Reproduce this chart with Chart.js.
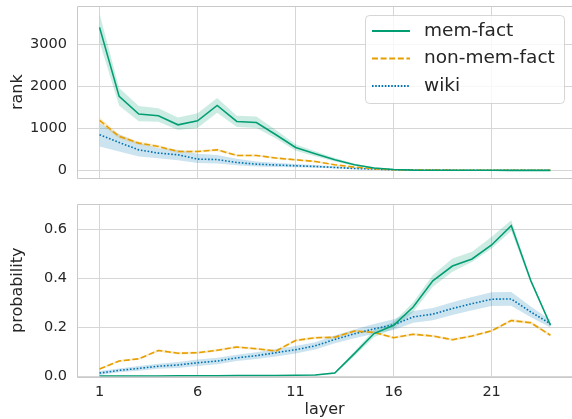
<!DOCTYPE html>
<html>
<head>
<meta charset="utf-8">
<script src="https://cdn.jsdelivr.net/npm/chart.js@4"></script>
<style>
  html, body { margin: 0; padding: 0; background: #fff; overflow: hidden; }
  #wrap { position: relative; width: 572px; height: 419px; overflow: hidden; }
  #topBox { position: absolute; left: 0; top: 0; }
  #botBox { position: absolute; left: 0; top: 190px; }
</style>
</head>
<body>
<div id="wrap">
  <div id="topBox"><canvas id="rankChart" width="572" height="190"></canvas></div>
  <div id="botBox"><canvas id="probChart" width="572" height="240"></canvas></div>
</div>
<script>
// layers on the x axis
const layers = [1, 2, 3, 4, 5, 6, 7, 8, 9, 10, 11, 12, 13, 14, 15, 16, 17, 18, 19, 20, 21, 22, 23, 24];
const layerTicks = [1, 6, 11, 16, 21];
const rankTicks = [0, 1000, 2000, 3000];
const probTicks = [0, 0.2, 0.4, 0.6];
const seriesNames = ["mem-fact", "non-mem-fact", "wiki"];

// top panel: rank (mean and band)
const memRank = [3400, 1760, 1340, 1300, 1085, 1180, 1545, 1165, 1140, 850, 546, 396, 254, 135, 57, 24, 8, 6, 5, 4, 4, 3, 3, 3];
const memRankLo = [3050, 1540, 1170, 1160, 960, 1010, 1370, 1030, 1010, 760, 470, 340, 215, 110, 42, 14, 5, 4, 3, 3, 3, 2, 2, 2];
const memRankHi = [3730, 1960, 1530, 1480, 1260, 1360, 1720, 1300, 1280, 960, 625, 455, 295, 165, 75, 34, 11, 8, 7, 6, 5, 4, 4, 4];
const nonRank = [1190, 810, 650, 570, 450, 450, 490, 357, 357, 295, 254, 214, 135, 80, 40, 17, 10, 8, 7, 6, 6, 5, 5, 5];
const nonRankLo = [1120, 760, 610, 535, 420, 420, 455, 330, 330, 270, 230, 192, 120, 70, 33, 12, 8, 6, 5, 5, 5, 4, 4, 4];
const nonRankHi = [1260, 860, 690, 605, 480, 480, 525, 385, 385, 320, 278, 236, 150, 90, 47, 22, 12, 10, 9, 7, 7, 6, 6, 6];
const wikiRank = [850, 665, 490, 413, 373, 270, 260, 190, 150, 130, 112, 95, 72, 48, 33, 17, 10, 8, 7, 6, 6, 5, 5, 5];
const wikiRankLo = [570, 450, 330, 290, 240, 175, 165, 125, 95, 85, 75, 65, 45, 30, 18, 6, 4, 3, 3, 3, 3, 2, 2, 2];
const wikiRankHi = [1120, 860, 650, 530, 490, 396, 370, 280, 215, 185, 155, 130, 100, 68, 48, 25, 16, 13, 11, 10, 10, 8, 8, 8];

// bottom panel: probability (mean and band)
const memProb = [0.002, 0.002, 0.002, 0.002, 0.003, 0.003, 0.003, 0.004, 0.004, 0.004, 0.005, 0.006, 0.014, 0.093, 0.175, 0.209, 0.283, 0.39, 0.45, 0.479, 0.536, 0.615, 0.39, 0.209];
const memProbLo = [0.001, 0.001, 0.001, 0.001, 0.002, 0.002, 0.002, 0.003, 0.003, 0.003, 0.004, 0.004, 0.010, 0.083, 0.160, 0.195, 0.263, 0.366, 0.427, 0.467, 0.522, 0.593, 0.380, 0.203];
const memProbHi = [0.003, 0.003, 0.003, 0.003, 0.004, 0.004, 0.004, 0.005, 0.005, 0.005, 0.006, 0.008, 0.018, 0.103, 0.190, 0.223, 0.303, 0.414, 0.481, 0.508, 0.570, 0.637, 0.398, 0.215];
const nonProb = [0.031, 0.063, 0.072, 0.106, 0.095, 0.097, 0.107, 0.12, 0.113, 0.104, 0.147, 0.158, 0.16, 0.185, 0.18, 0.158, 0.172, 0.165, 0.15, 0.165, 0.186, 0.228, 0.219, 0.168];
const nonProbLo = [0.027, 0.059, 0.068, 0.101, 0.090, 0.092, 0.102, 0.115, 0.108, 0.099, 0.142, 0.153, 0.155, 0.180, 0.175, 0.153, 0.167, 0.160, 0.145, 0.160, 0.181, 0.222, 0.213, 0.162];
const nonProbHi = [0.035, 0.067, 0.076, 0.111, 0.100, 0.102, 0.112, 0.125, 0.118, 0.109, 0.152, 0.163, 0.165, 0.190, 0.185, 0.163, 0.177, 0.170, 0.155, 0.170, 0.191, 0.234, 0.225, 0.174];
const wikiProb = [0.014, 0.025, 0.033, 0.042, 0.047, 0.056, 0.063, 0.076, 0.085, 0.097, 0.109, 0.125, 0.151, 0.174, 0.194, 0.211, 0.243, 0.254, 0.277, 0.297, 0.315, 0.316, 0.263, 0.215];
const wikiProbLo = [0.006, 0.017, 0.023, 0.032, 0.035, 0.043, 0.050, 0.063, 0.071, 0.082, 0.094, 0.110, 0.135, 0.156, 0.174, 0.189, 0.219, 0.229, 0.251, 0.270, 0.287, 0.288, 0.241, 0.200];
const wikiProbHi = [0.022, 0.033, 0.043, 0.052, 0.059, 0.069, 0.076, 0.089, 0.099, 0.112, 0.124, 0.140, 0.167, 0.192, 0.214, 0.233, 0.267, 0.279, 0.303, 0.324, 0.343, 0.344, 0.285, 0.230];

const GREEN = "#029E73", ORANGE = "#E69F00", BLUE = "#0173B2";
const GREEN_BAND = "rgba(2,158,115,0.2)", ORANGE_BAND = "rgba(230,159,0,0.2)", BLUE_BAND = "rgba(1,115,178,0.2)";
const TEXT = "#262626", GRID = "#d6d6d6", SPINE = "#c9c9c9";
const FONT = "'DejaVu Sans', sans-serif";

const pts = vals => layers.map((l, i) => ({ x: l, y: vals[i] }));

function line(label, vals, color, dash) {
  return { label, data: pts(vals), borderColor: color, borderWidth: 1.6, borderDash: dash,
           pointRadius: 0, fill: false, tension: 0, order: 0 };
}
function band(vals, color, fillTo) {
  return { label: "", data: pts(vals), borderWidth: 0, borderColor: "rgba(0,0,0,0)",
           backgroundColor: color, pointRadius: 0, fill: fillTo, tension: 0, order: 1 };
}

// no extra room for tick labels, the plot box is placed by hand
function noPad(s) {
  s.paddingTop = 0; s.paddingBottom = 0; s.paddingLeft = 0; s.paddingRight = 0;
}

const spines = {
  id: "spines",
  afterDraw(chart) {
    const { ctx, chartArea: a } = chart;
    const l = Math.round(a.left) + 0.5, t = Math.round(a.top) + 0.5, b = Math.round(a.bottom) + 0.5;
    ctx.save();
    ctx.strokeStyle = SPINE;
    ctx.lineWidth = 1;
    ctx.beginPath();
    ctx.moveTo(a.right + 2, t); ctx.lineTo(l, t); ctx.lineTo(l, b); ctx.lineTo(a.right + 2, b);
    ctx.stroke();
    ctx.restore();
  }
};

const boxLegend = {
  id: "boxLegend",
  afterDraw(chart) {
    const ctx = chart.ctx;
    const x0 = 365, y0 = 15.5, w = 199, h = 88, r = 4;
    ctx.save();
    ctx.beginPath();
    ctx.roundRect(x0 + 0.5, y0, w, h, r);
    ctx.fillStyle = "rgba(255,255,255,0.8)";
    ctx.fill();
    ctx.strokeStyle = "rgba(204,204,204,0.8)";
    ctx.lineWidth = 1;
    ctx.stroke();
    const rows = [31, 58.5, 86];
    const styles = [[GREEN, []], [ORANGE, [6, 2.6]], [BLUE, [1.6, 1.6]]];
    rows.forEach((y, i) => {
      ctx.beginPath();
      ctx.setLineDash(styles[i][1]);
      ctx.strokeStyle = styles[i][0];
      ctx.lineWidth = 2;
      ctx.moveTo(372, y); ctx.lineTo(410, y);
      ctx.stroke();
      ctx.setLineDash([]);
      ctx.fillStyle = TEXT;
      ctx.font = "18.5px " + FONT;
      ctx.textBaseline = "middle";
      ctx.textAlign = "left";
      ctx.fillText(seriesNames[i], 424, y);
    });
    ctx.restore();
  }
};

function xScale(showLabels, fitHeight) {
  return {
    type: "linear", min: -0.15, max: 25.1,
    afterBuildTicks: s => { s.ticks = layerTicks.map(v => ({ value: v })); },
    afterFit: s => { s.height = fitHeight; noPad(s); },
    grid: { color: GRID, lineWidth: 1, drawTicks: false },
    border: { display: false },
    ticks: { display: showLabels, padding: 7, color: TEXT, font: { family: FONT, size: 14.5 },
             maxRotation: 0, callback: v => String(v) },
    title: { display: showLabels, text: "layer", color: TEXT, font: { family: FONT, size: 16 },
             padding: { top: 0, bottom: 10.4 } }
  };
}
function yScale(min, max, tickVals, fmt, title) {
  return {
    min, max,
    afterBuildTicks: s => { s.ticks = tickVals.map(v => ({ value: v })); },
    afterFit: s => { s.width = 77; noPad(s); },
    grid: { color: GRID, lineWidth: 1, drawTicks: false },
    border: { display: false },
    ticks: { padding: 10, color: TEXT, font: { family: FONT, size: 14.5 }, callback: fmt },
    title: { display: true, text: title, color: TEXT, font: { family: FONT, size: 16 },
             padding: { top: 8, bottom: 0 } }
  };
}

const common = {
  responsive: false,
  animation: false,
  plugins: { legend: { display: false }, tooltip: { enabled: false } }
};

new Chart(document.getElementById("rankChart").getContext("2d"), {
  type: "line",
  data: {
    datasets: [
      line(seriesNames[0], memRank, GREEN, []),
      line(seriesNames[1], nonRank, ORANGE, [6, 2.6]),
      line(seriesNames[2], wikiRank, BLUE, [1.6, 1.8]),
      band(memRankHi, GREEN_BAND, "+1"), band(memRankLo, GREEN_BAND, false),
      band(nonRankHi, ORANGE_BAND, "+1"), band(nonRankLo, ORANGE_BAND, false),
      band(wikiRankHi, BLUE_BAND, "+1"), band(wikiRankLo, BLUE_BAND, false)
    ]
  },
  options: Object.assign({}, common, {
    layout: { padding: { top: 6, right: 0, left: 0, bottom: 0 } },
    scales: {
      x: xScale(false, 11.7),
      y: yScale(-186, 3908, rankTicks, v => String(v), "rank")
    }
  }),
  plugins: [spines, boxLegend]
});

new Chart(document.getElementById("probChart").getContext("2d"), {
  type: "line",
  data: {
    datasets: [
      line(seriesNames[0], memProb, GREEN, []),
      line(seriesNames[1], nonProb, ORANGE, [6, 2.6]),
      line(seriesNames[2], wikiProb, BLUE, [1.6, 1.8]),
      band(memProbHi, GREEN_BAND, "+1"), band(memProbLo, GREEN_BAND, false),
      band(nonProbHi, ORANGE_BAND, "+1"), band(nonProbLo, ORANGE_BAND, false),
      band(wikiProbHi, BLUE_BAND, "+1"), band(wikiProbLo, BLUE_BAND, false)
    ]
  },
  options: Object.assign({}, common, {
    layout: { padding: { top: 14, right: 0, left: 0, bottom: 0 } },
    scales: {
      x: xScale(true, 53.5),
      y: yScale(0, 0.703, probTicks, v => Number(v).toFixed(1), "probability")
    }
  }),
  plugins: [spines]
});
</script>
</body>
</html>
